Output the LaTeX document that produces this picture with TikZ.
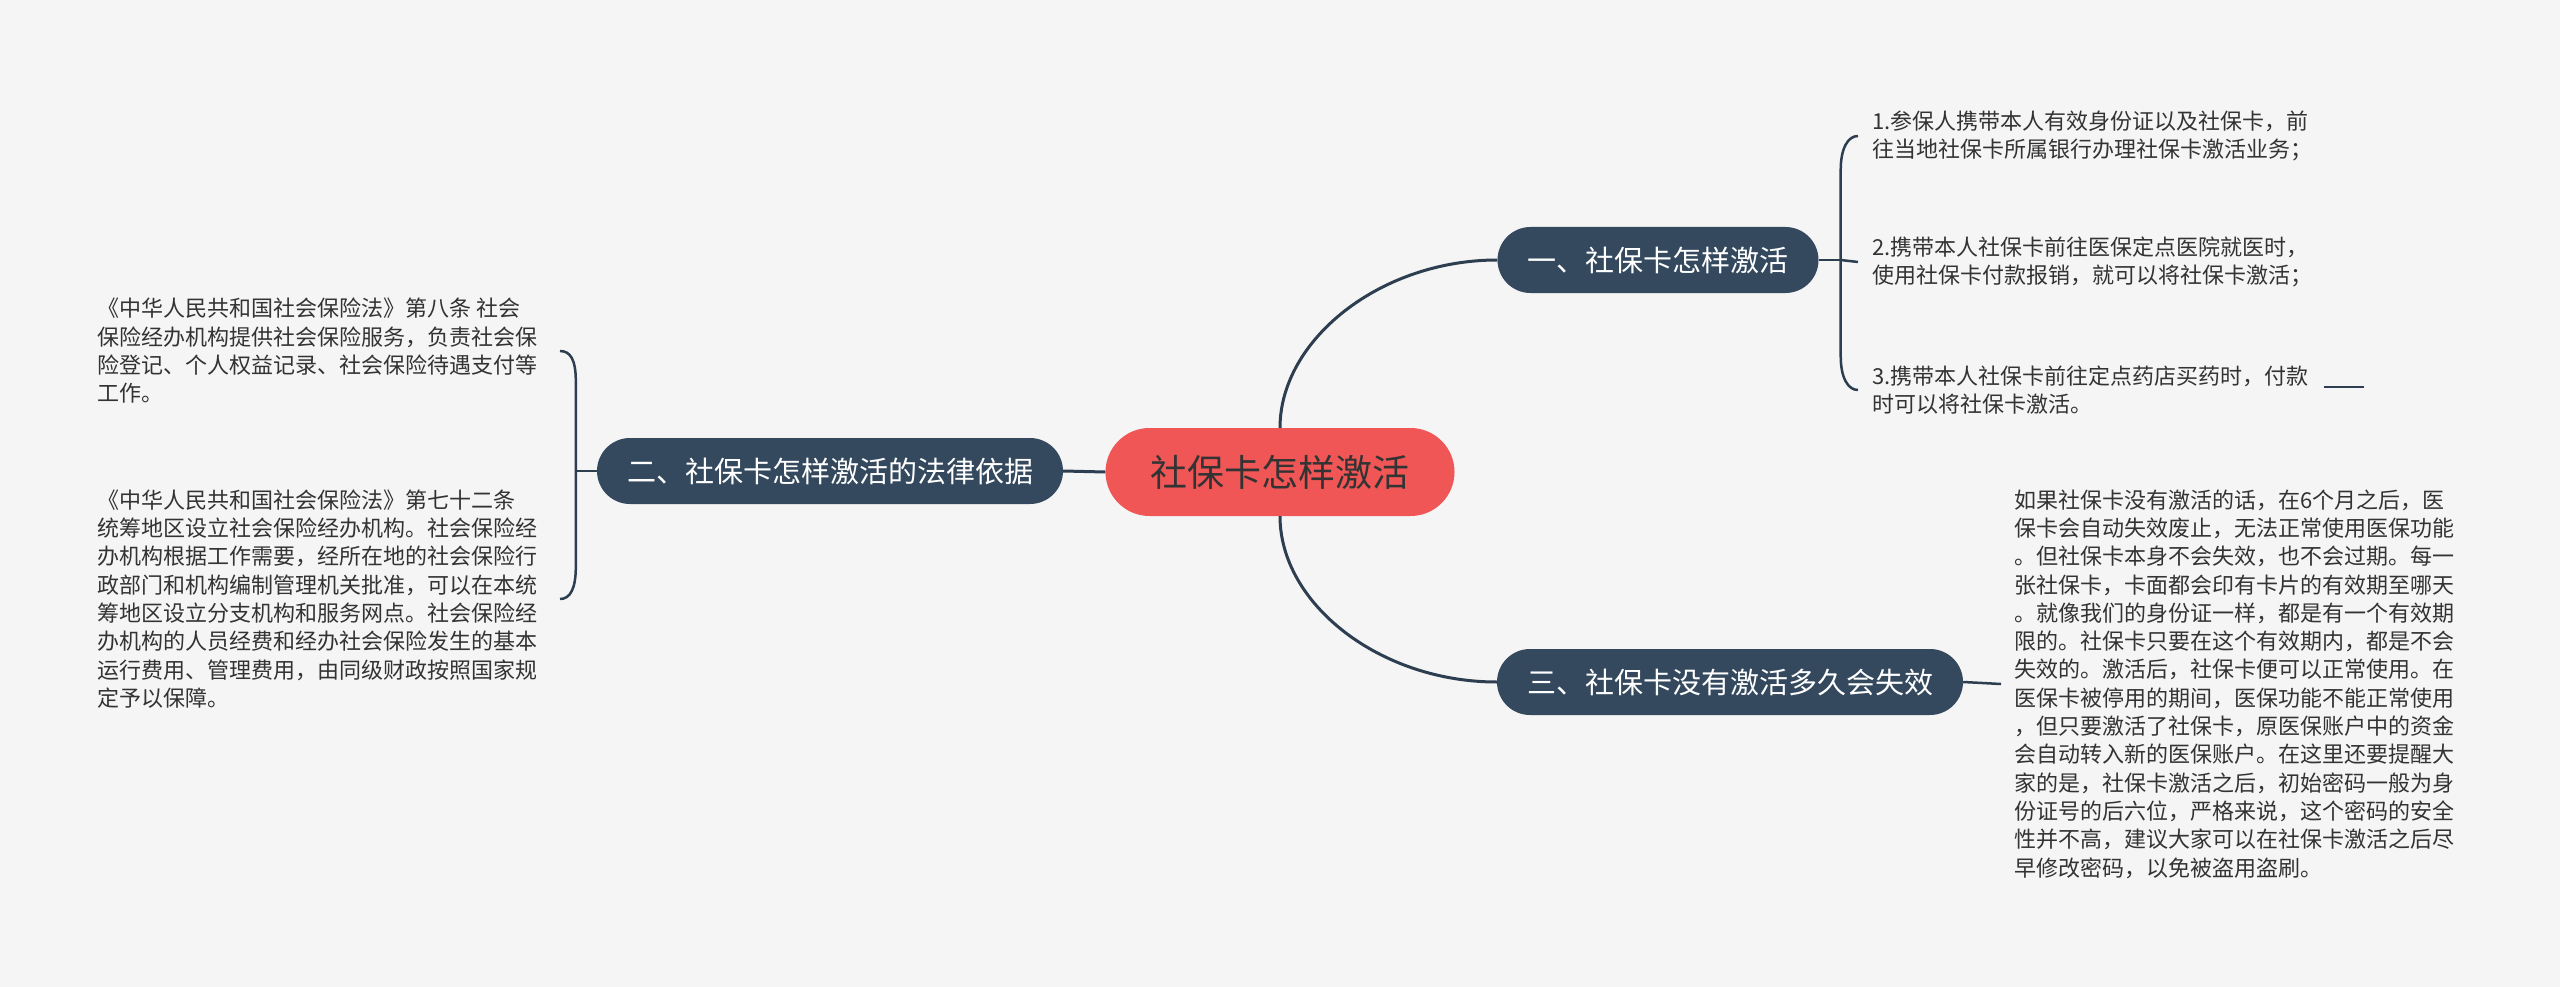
\documentclass[tikz,border=0pt]{standalone}
\usepackage{fontspec}
\setmainfont{Noto Sans CJK SC}
\usetikzlibrary{positioning,calc}

\begin{document}
\begin{tikzpicture}[x=1pt,y=-1pt,
  root/.style={fill=rootcol, text=inkcol, rounded corners=44pt, minimum height=88pt,
    inner xsep=45pt, font=\fontsize{37}{40}\selectfont},
  branch/.style={fill=brcol, text=white, rounded corners=33pt, minimum height=66pt,
    inner xsep=30pt, font=\fontsize{29}{32}\selectfont},
  leaf/.style={align=left, text=inkcol, inner ysep=0pt, font=\fontsize{22}{28.3}\selectfont},
  link/.style={draw=linecol, line width=3pt},
  twig/.style={draw=linecol, line width=2.5pt}]

\definecolor{bgcol}{RGB}{245,245,245}
\definecolor{rootcol}{RGB}{240,86,86}
\definecolor{brcol}{RGB}{52,73,94}
\definecolor{linecol}{RGB}{44,62,80}
\definecolor{inkcol}{RGB}{51,51,51}

\fill[bgcol] (0,0) rectangle (2560,987);

% ===== ROOT =====
\node[root] (root) at (1280,472) {社保卡怎样激活};

% ===== BRANCHES =====
\node[branch] (br1) at (1658,260) {一、社保卡怎样激活};
\node[branch, minimum width=462pt] (br2) at (830,471) {二、社保卡怎样激活的法律依据};
\node[branch, minimum width=461pt] (br3) at (1730,682) {三、社保卡没有激活多久会失效};

% ===== LEAVES =====
\node[leaf, anchor=west, inner xsep=14pt] (t11) at (1858,136) {1.参保人携带本人有效身份证以及社保卡，前\\往当地社保卡所属银行办理社保卡激活业务；};
\node[leaf, anchor=west, inner xsep=14pt] (t12) at (1858,262) {2.携带本人社保卡前往医保定点医院就医时，\\使用社保卡付款报销，就可以将社保卡激活；};
\node[leaf, anchor=west, inner xsep=14pt] (t13) at (1858,390) {3.携带本人社保卡前往定点药店买药时，付款\\时可以将社保卡激活。};

\node[leaf, anchor=east, inner xsep=22pt] (t21) at (560,351) {《中华人民共和国社会保险法》第八条 社会\\保险经办机构提供社会保险服务，负责社会保\\险登记、个人权益记录、社会保险待遇支付等\\工作。};
\node[leaf, anchor=east, inner xsep=22pt] (t22) at (560,599) {《中华人民共和国社会保险法》第七十二条\\统筹地区设立社会保险经办机构。社会保险经\\办机构根据工作需要，经所在地的社会保险行\\政部门和机构编制管理机关批准，可以在本统\\筹地区设立分支机构和服务网点。社会保险经\\办机构的人员经费和经办社会保险发生的基本\\运行费用、管理费用，由同级财政按照国家规\\定予以保障。};

\node[leaf, anchor=west, inner xsep=13pt] (t31) at (2001,684) {如果社保卡没有激活的话，在6个月之后，医\\保卡会自动失效废止，无法正常使用医保功能\\。但社保卡本身不会失效，也不会过期。每一\\张社保卡，卡面都会印有卡片的有效期至哪天\\。就像我们的身份证一样，都是有一个有效期\\限的。社保卡只要在这个有效期内，都是不会\\失效的。激活后，社保卡便可以正常使用。在\\医保卡被停用的期间，医保功能不能正常使用\\，但只要激活了社保卡，原医保账户中的资金\\会自动转入新的医保账户。在这里还要提醒大\\家的是，社保卡激活之后，初始密码一般为身\\份证号的后六位，严格来说，这个密码的安全\\性并不高，建议大家可以在社保卡激活之后尽\\早修改密码，以免被盗用盗刷。};

% ===== CONNECTIONS =====
\draw[link] (root.north) .. controls (1280,340) and (1380,260) .. (br1.west);
\draw[link] (root.south) .. controls (1280,604) and (1380,682) .. (br3.west);
\draw[link] (root.west) -- (br2.east);

% branch 1 fan
\draw[twig] (br1.east) -- ++(22,0) coordinate (j1);
\draw[twig] (j1) -- (t12.west);
\draw[twig] (j1) -- ++(0,-90) .. controls +(0,-22) and +(-10,0) .. (t11.west);
\draw[twig] (j1) -- ++(0,96) .. controls +(0,22) and +(-10,0) .. (t13.west);
\coordinate (stub) at (2324,387);
\draw[twig] (stub) -- ++(40,0);

% branch 2 fan
\draw[twig] (br2.west) -- ++(-21,0) coordinate (j2);
\draw[twig] (j2) -- ++(0,-90) .. controls +(0,-22) and +(10,0) .. (t21.east);
\draw[twig] (j2) -- ++(0,96) .. controls +(0,22) and +(10,0) .. (t22.east);

% branch 3
\draw[twig] (br3.east) -- (t31.west);

\end{tikzpicture}
\end{document}
